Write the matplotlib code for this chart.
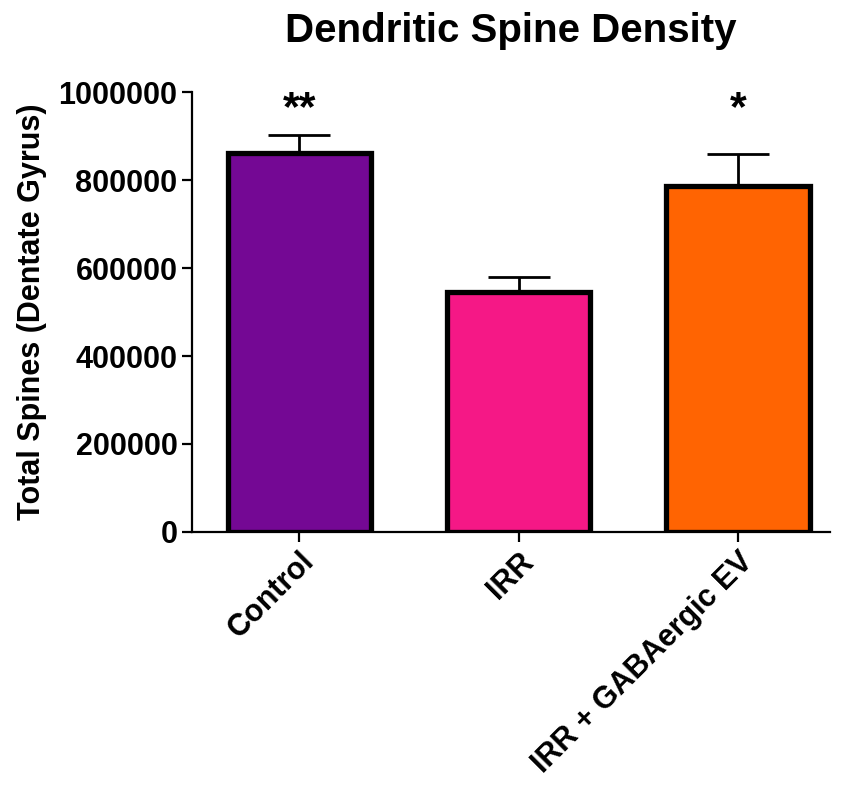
import matplotlib
matplotlib.use("Agg")
import matplotlib.pyplot as plt

plt.rcParams['font.family'] = ['Liberation Sans', 'DejaVu Sans']

groups = ["Control", "IRR", "IRR + GABAergic EV"]
means = [861000, 545000, 786000]
errors = [41000, 35000, 73000]
colors = ["#740894", "#f51886", "#ff6402"]
stars = ["**", "", "*"]
star_y = 916000

fig = plt.figure(figsize=(8.46, 7.95), dpi=100)
ax = fig.add_axes([0.227, 0.331, 0.754, 0.553])

x = list(range(len(groups)))
ax.bar(x, means, width=0.655, color=colors, edgecolor="black", linewidth=3.8, zorder=3)
ax.errorbar(x, means, yerr=[[0] * 3, errors], fmt="none", ecolor="black",
            elinewidth=2, capsize=22, capthick=2, zorder=2)

# significance marks above the bars
for xi, s in zip(x, stars):
    if s:
        ax.text(xi, star_y, s, ha="center", va="bottom",
                fontsize=31, fontweight="bold")

ax.set_xlim(-0.49, 2.42)
ax.set_ylim(0, 1000000)
ax.set_yticks([0, 200000, 400000, 600000, 800000, 1000000])
ax.set_yticklabels(["0", "200000", "400000", "600000", "800000", "1000000"],
                   fontsize=22, fontweight="bold")
ax.set_xticks(x)
ax.set_xticklabels(groups, rotation=45, ha="right", rotation_mode="anchor",
                   fontsize=22, fontweight="bold")
ax.set_ylabel("Total Spines (Dentate Gyrus)", fontsize=22, fontweight="bold", labelpad=8)
ax.set_title("Dendritic Spine Density", fontsize=29, fontweight="bold", pad=36)

for side in ["top", "right"]:
    ax.spines[side].set_visible(False)
for side in ["left", "bottom"]:
    ax.spines[side].set_linewidth(1.6)
ax.tick_params(axis="both", width=1.6, length=7, direction="out")

fig.savefig("out.png", dpi=100)
